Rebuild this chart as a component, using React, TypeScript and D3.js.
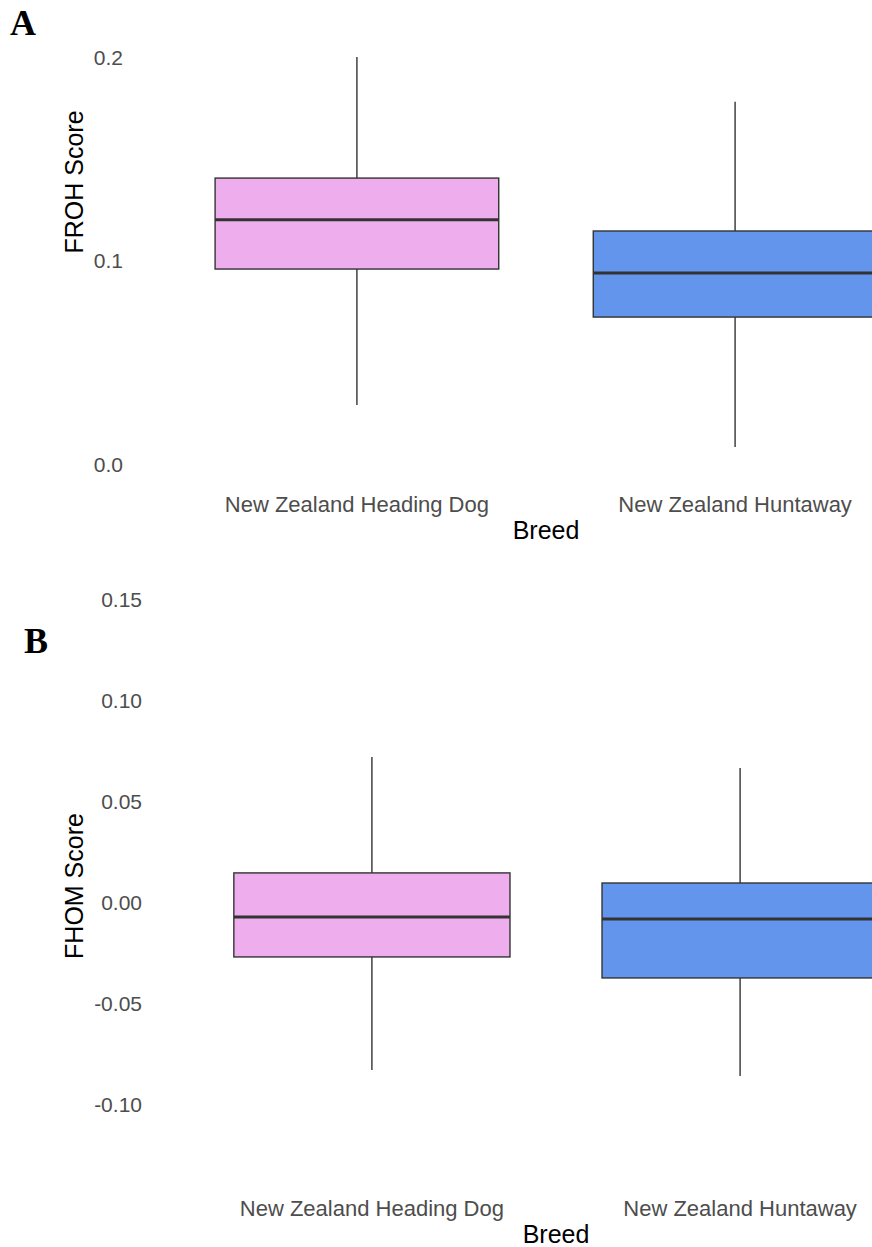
import React, { useEffect, useRef } from 'react';
import * as d3 from 'd3';

const breeds = ['New Zealand Heading Dog', 'New Zealand Huntaway'];
const fills = ['#EEAEEE', '#6495ED'];

// panel A: FROH
const frohMin = [0.029, 0.0084];
const frohQ1 = [0.0958, 0.0722];
const frohMedian = [0.12, 0.0939];
const frohQ3 = [0.1405, 0.1145];
const frohMax = [0.2, 0.178];
const frohTicks = [0, 0.1, 0.2];

// panel B: FHOM
const fhomMin = [-0.0832, -0.0861];
const fhomQ1 = [-0.0272, -0.0376];
const fhomMedian = [-0.0074, -0.0084];
const fhomQ3 = [0.0144, 0.0094];
const fhomMax = [0.0718, 0.0663];
const fhomTicks = [-0.1, -0.05, 0, 0.05, 0.1, 0.15];

const font = '"Liberation Sans", Arial, Helvetica, sans-serif';

// plain hyphen instead of d3's unicode minus
const fixed = digits => d => d.toFixed(digits);

const App = () => {
  const ref = useRef();

  useEffect(() => {
    const svg = d3.select(ref.current);
    svg.selectAll('*').remove();

    const drawPanel = (opts) => {
      const { letter, letterX, letterY, yDomain, yRange, ticks, fmt, tickX, xRange,
        mins, q1s, meds, q3s, maxs, yTitle, yTitleY, xLabelY, titleY } = opts;

      const y = d3.scaleLinear().domain(yDomain).range(yRange);
      const x = d3.scalePoint().domain(breeds).range(xRange).padding(0.6);
      const bw = x.step() * 0.75;

      const g = svg.append('g');

      g.append('text')
        .attr('x', letterX)
        .attr('y', letterY)
        .style('font-family', '"Liberation Serif", "Times New Roman", serif')
        .style('font-weight', 'bold')
        .style('font-size', '36px')
        .text(letter);

      // y tick labels
      g.selectAll('.ytick')
        .data(ticks)
        .enter()
        .append('text')
        .attr('x', tickX)
        .attr('y', d => y(d))
        .attr('dy', '0.36em')
        .attr('text-anchor', 'end')
        .style('font-family', font)
        .style('font-size', '21px')
        .style('fill', '#4D4D4D')
        .text(d => fmt(d));

      // whiskers
      g.selectAll('.whisker')
        .data(breeds)
        .enter()
        .append('line')
        .attr('x1', d => x(d))
        .attr('x2', d => x(d))
        .attr('y1', (d, i) => y(mins[i]))
        .attr('y2', (d, i) => y(maxs[i]))
        .style('stroke', '#333333')
        .style('stroke-width', 1.4);

      // boxes
      g.selectAll('.box')
        .data(breeds)
        .enter()
        .append('rect')
        .attr('x', d => x(d) - bw / 2)
        .attr('width', bw)
        .attr('y', (d, i) => y(q3s[i]))
        .attr('height', (d, i) => y(q1s[i]) - y(q3s[i]))
        .style('fill', (d, i) => fills[i])
        .style('stroke', '#333333')
        .style('stroke-width', 1.4);

      // medians
      g.selectAll('.median')
        .data(breeds)
        .enter()
        .append('line')
        .attr('x1', d => x(d) - bw / 2)
        .attr('x2', d => x(d) + bw / 2)
        .attr('y1', (d, i) => y(meds[i]))
        .attr('y2', (d, i) => y(meds[i]))
        .style('stroke', '#333333')
        .style('stroke-width', 3);

      // x labels
      g.selectAll('.xlab')
        .data(breeds)
        .enter()
        .append('text')
        .attr('x', d => x(d))
        .attr('y', xLabelY)
        .attr('text-anchor', 'middle')
        .style('font-family', font)
        .style('font-size', '22px')
        .style('fill', '#4D4D4D')
        .text(d => d);

      g.append('text')
        .attr('x', (xRange[0] + xRange[1]) / 2)
        .attr('y', titleY)
        .attr('text-anchor', 'middle')
        .style('font-family', font)
        .style('font-size', '25px')
        .style('fill', '#000')
        .text('Breed');

      g.append('text')
        .attr('transform', `translate(74, ${yTitleY}) rotate(-90)`)
        .attr('text-anchor', 'middle')
        .attr('dy', '0.36em')
        .style('font-family', font)
        .style('font-size', '25px')
        .style('fill', '#000')
        .text(yTitle);
    };

    drawPanel({
      letter: 'A', letterX: 10, letterY: 35,
      yDomain: [0, 0.2], yRange: [464, 57],
      ticks: frohTicks, fmt: fixed(1), tickX: 123,
      xRange: [130, 962],
      mins: frohMin, q1s: frohQ1, meds: frohMedian, q3s: frohQ3, maxs: frohMax,
      yTitle: 'FROH Score', yTitleY: 182, xLabelY: 512, titleY: 539,
    });

    drawPanel({
      letter: 'B', letterX: 24, letterY: 653,
      yDomain: [-0.1, 0.15], yRange: [1104, 599],
      ticks: fhomTicks, fmt: fixed(2), tickX: 142,
      xRange: [151, 961],
      mins: fhomMin, q1s: fhomQ1, meds: fhomMedian, q3s: fhomQ3, maxs: fhomMax,
      yTitle: 'FHOM Score', yTitleY: 886, xLabelY: 1216, titleY: 1243,
    });
  }, []);

  return (
    <svg
      ref={ref}
      width={872}
      height={1247}
      style={{ position: 'absolute', left: 0, top: 0, background: '#fff' }}
    />
  );
};

export default App;
